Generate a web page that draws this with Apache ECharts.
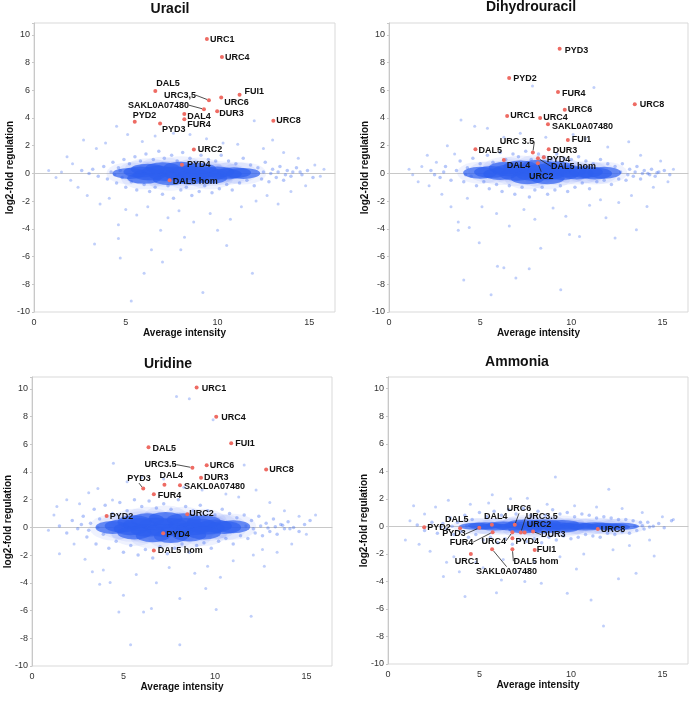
<!DOCTYPE html>
<html><head><meta charset="utf-8">
<script src="https://cdn.jsdelivr.net/npm/echarts/dist/echarts.min.js"></script>
<style>html,body{margin:0;padding:0;background:#fff}#c{width:691px;height:701px}</style>
</head><body><div id="c"></div><script>
// ---------- DATA ----------
const panelTitles = ['Uracil', 'Dihydrouracil', 'Uridine', 'Ammonia'];
const xTicks = [0, 5, 10, 15];
const yTicks = [-10, -8, -6, -4, -2, 0, 2, 4, 6, 8, 10];

// Panel 1: Uracil
const uracilGenes = ['URC1','URC4','DAL5','URC3,5','FUI1','URC6','SAKL0A07480','DUR3','DAL4','FUR4','PYD2','PYD3','URC8','URC2','PYD4','DAL5 hom'];
const uracilVals = [[9.42,9.69],[10.24,8.39],[6.61,5.95],[9.53,5.28],[11.2,5.68],[10.2,5.47],[9.26,4.63],[9.98,4.48],[8.19,4.29],[8.19,3.91],[5.49,3.72],[6.87,3.6],[13.04,3.79],[8.71,1.73],[8.06,0.62],[7.39,-0.5]];
const uracilCore = [[5.2,0],[5.8,0.1],[6.3,-0.1],[6.8,0.15],[7.2,-0.15],[7.6,0.1],[8.0,-0.1],[8.4,0.15],[8.8,-0.1],[9.2,0.1],[9.6,-0.1],[10.0,0.1],[10.4,-0.05],[10.9,0.05],[11.4,0],[7.0,0.4],[8.0,0.45],[9.0,0.35],[7.4,-0.45],[8.5,-0.4],[9.6,-0.35],[6.2,0.3],[6.0,-0.35]];
const uracilHalo = [[3.2,0.3],[3.5,-0.2],[3.8,0.5],[4.0,-0.4],[4.2,0.1],[4.3,0.8],[4.5,-0.7],[4.6,0.4],[4.8,-0.3],[4.9,1.0],[5.0,-1.0],[5.2,0.7],[5.3,-0.6],[5.5,1.2],[5.6,-1.2],[5.8,0.9],[6.0,-0.8],[6.1,1.4],[6.3,-1.3],[6.5,1.0],[6.6,-1.0],[6.8,1.6],[7.0,-1.5],[7.1,1.1],[7.3,-0.9],[7.5,1.3],[7.6,-1.8],[7.8,0.9],[8.0,-1.2],[8.1,1.5],[8.3,-1.0],[8.5,1.1],[8.6,-1.6],[8.8,0.8],[9.0,-1.3],[9.1,1.3],[9.3,-0.9],[9.5,1.0],[9.7,-1.4],[9.9,0.9],[10.1,-1.1],[10.2,1.3],[10.5,-0.8],[10.6,0.9],[10.8,-1.2],[11.0,0.7],[11.2,-0.7],[11.4,1.1],[11.6,-0.5],[11.8,0.6],[12.0,-0.9],[12.2,0.4],[12.4,-0.4],[12.6,0.8],[12.8,-0.6],[13.0,0.3],[13.2,-0.3],[13.4,0.5],[13.6,-0.5],[13.8,0.2],[14.0,-0.2],[14.3,0.4],[14.6,-0.1],[14.9,0.2],[15.2,-0.3],[12.5,0.1],[12.9,0.0],[13.3,0.1],[13.7,-0.1],[14.1,0.1],[14.5,0.1],[3.0,0.0],[2.6,0.2],[4.4,-0.1],[4.7,0.2]];
const uracilSparse = [[0.8,0.2],[1.2,-0.3],[1.5,0.1],[1.8,1.2],[2.0,-0.5],[2.1,0.7],[2.4,-1.0],[2.7,2.4],[2.9,-1.6],[3.3,-5.1],[3.4,1.8],[3.6,-2.2],[3.9,2.2],[4.1,-1.8],[4.5,3.4],[4.6,-3.7],[4.6,-4.7],[4.7,-6.1],[5.1,2.8],[5.0,-2.6],[5.3,-9.2],[5.6,-3.0],[5.9,2.3],[6.0,-7.2],[6.2,-2.4],[6.4,-5.5],[6.6,2.7],[6.9,-4.1],[7.0,-6.4],[7.3,-3.2],[7.6,2.9],[7.9,-2.7],[8.2,-4.6],[8.5,2.8],[8.7,-3.5],[9.2,-8.6],[9.4,2.5],[9.6,-2.9],[10.0,-4.1],[10.3,2.2],[10.7,-3.3],[11.1,2.1],[11.3,-2.4],[11.9,-7.2],[12.0,3.8],[12.1,-2.0],[12.5,1.8],[12.7,-1.6],[13.0,2.4],[13.3,-2.2],[13.6,1.5],[14.0,-1.3],[14.4,1.1],[14.8,-0.9],[15.3,0.6],[15.8,0.3],[15.6,-0.2],[10.5,-5.2],[8.0,-5.5]];

// Panel 2: Dihydrouracil
const dihydroGenes = ['PYD3','PYD2','FUR4','URC6','URC8','URC1','URC4','SAKL0A07480','FUI1','DAL5','URC 3.5','DUR3','PYD4','DAL5 hom','URC2','DAL4'];
const dihydroVals = [[9.36,8.99],[6.59,6.88],[9.27,5.87],[9.64,4.6],[13.48,4.98],[6.48,4.14],[8.29,4.0],[8.72,3.54],[9.81,2.41],[4.74,1.74],[7.89,1.5],[8.76,1.74],[8.49,1.17],[8.17,1.09],[8.17,0.73],[6.3,0.97]];
const dihydroCore = [[5.0,0.05],[5.6,0.1],[6.1,-0.05],[6.6,0.2],[7.0,-0.1],[7.5,0.2],[7.9,-0.1],[8.3,0.25],[8.7,-0.05],[9.1,0.2],[9.5,-0.05],[9.9,0.15],[10.3,0],[10.8,0.1],[11.3,0],[11.8,0.05],[7.2,0.5],[8.2,0.55],[9.2,0.45],[7.6,-0.35],[8.7,-0.35],[6.4,0.4]];
const dihydroHalo = [[2.3,0.2],[2.8,-0.3],[3.1,0.5],[3.4,-0.5],[3.7,0.2],[3.9,0.9],[4.1,-0.6],[4.3,0.4],[4.5,-0.2],[4.6,1.1],[4.8,-0.9],[5.0,0.7],[5.2,-0.6],[5.4,1.3],[5.5,-1.1],[5.7,0.8],[5.9,-0.8],[6.1,1.5],[6.2,-1.3],[6.4,1.0],[6.6,-0.9],[6.8,1.4],[6.9,-1.5],[7.1,1.2],[7.3,-1.0],[7.5,1.6],[7.7,-1.7],[7.8,1.0],[8.0,-1.2],[8.2,1.4],[8.4,-1.0],[8.5,1.2],[8.7,-1.5],[8.9,1.0],[9.1,-1.2],[9.2,1.4],[9.4,-0.9],[9.6,1.1],[9.8,-1.3],[10.0,1.0],[10.2,-1.0],[10.4,1.2],[10.6,-0.7],[10.8,0.9],[11.0,-1.1],[11.2,0.7],[11.4,-0.6],[11.6,1.0],[11.8,-0.5],[12.0,0.7],[12.2,-0.8],[12.4,0.5],[12.6,-0.4],[12.8,0.7],[13.0,-0.5],[13.2,0.3],[13.4,-0.2],[13.6,0.5],[13.8,-0.4],[14.0,0.2],[14.2,0.0],[14.4,0.3],[14.6,-0.2],[14.8,0.1],[15.1,0.2],[15.4,-0.1],[12.7,0.1],[13.1,-0.1],[13.5,0.1],[13.9,0.0],[14.3,-0.1],[14.7,0.05],[3.0,0.1],[2.5,-0.1],[4.2,-0.1]];
const dihydroSparse = [[1.1,0.3],[1.3,-0.1],[1.6,-0.6],[1.8,0.5],[2.1,1.3],[2.2,-0.9],[2.6,0.8],[2.9,-1.5],[3.2,2.0],[3.4,-2.4],[3.6,1.4],[3.8,-3.5],[3.8,-4.1],[3.95,3.85],[4.1,-7.7],[4.3,-1.8],[4.7,3.4],[4.95,-5.0],[5.1,-2.4],[5.4,3.25],[5.6,-8.75],[5.9,-2.9],[5.95,-6.7],[6.3,2.6],[6.6,-3.8],[6.96,-7.55],[7.2,2.9],[7.4,-2.6],[7.69,-6.88],[7.87,6.3],[8.0,-3.3],[8.32,-5.4],[8.6,2.6],[9.0,-2.5],[9.42,-8.4],[9.7,-3.1],[10.1,2.8],[10.45,-4.55],[10.78,2.5],[11.0,-2.3],[11.24,6.2],[11.6,-1.9],[12.0,1.9],[12.4,-4.67],[12.6,-2.1],[13.15,2.29],[13.3,-1.6],[13.57,-4.07],[13.8,1.3],[14.15,-2.39],[14.5,-1.0],[14.9,0.9],[15.3,-0.6],[15.6,0.3],[6.3,-6.8],[9.9,-4.4],[11.9,-3.2],[4.4,-3.9]];

// Panel 3: Uridine
const uridineGenes = ['URC1','URC4','FUI1','DAL5','URC3.5','URC6','URC8','DUR3','PYD3','DAL4','SAKL0A07480','FUR4','PYD2','URC2','PYD4','DAL5 hom'];
const uridineVals = [[9.0,10.1],[10.07,7.98],[10.89,6.07],[6.37,5.78],[8.77,4.31],[9.55,4.48],[12.8,4.17],[9.24,3.59],[6.08,2.8],[7.24,3.08],[8.09,3.04],[6.66,2.39],[4.08,0.82],[8.49,0.94],[7.17,-0.43],[6.66,-1.66]];
const uridineCore = [[4.4,0],[4.9,0.1],[5.4,-0.1],[5.9,0.2],[6.3,-0.2],[6.8,0.25],[7.2,-0.2],[7.6,0.2],[8.0,-0.15],[8.4,0.2],[8.8,-0.1],[9.2,0.15],[9.6,-0.05],[10.0,0.1],[10.5,0],[11.0,0.05],[6.3,0.55],[7.3,0.65],[8.3,0.55],[6.6,-0.6],[7.6,-0.65],[8.6,-0.55],[5.6,0.4],[5.6,-0.4],[9.4,0.4],[9.4,-0.4]];
const uridineHalo = [[1.5,0.1],[1.9,-0.4],[2.2,0.5],[2.5,-0.1],[2.8,0.8],[3.0,-0.7],[3.2,0.3],[3.4,1.3],[3.5,-1.2],[3.7,0.6],[3.9,-0.5],[4.0,1.6],[4.2,-1.5],[4.4,1.0],[4.6,-1.0],[4.8,1.8],[5.0,-1.8],[5.2,1.2],[5.4,-1.3],[5.6,2.0],[5.8,-2.0],[6.0,1.5],[6.2,-1.6],[6.4,1.9],[6.6,-2.2],[6.8,1.4],[7.0,-1.4],[7.2,1.7],[7.4,-1.9],[7.6,1.3],[7.8,-1.5],[8.0,2.0],[8.2,-1.2],[8.4,1.5],[8.6,-1.8],[8.8,1.2],[9.0,-1.3],[9.2,1.6],[9.4,-1.1],[9.6,1.2],[9.8,-1.5],[10.0,0.9],[10.2,-1.0],[10.4,1.3],[10.6,-0.8],[10.8,1.0],[11.0,-1.2],[11.2,0.7],[11.4,-0.6],[11.6,0.9],[11.8,-0.8],[12.0,0.5],[12.2,-0.4],[12.4,0.8],[12.6,-0.6],[12.8,0.3],[13.0,-0.3],[13.2,0.6],[13.4,-0.5],[13.6,0.2],[13.8,-0.1],[14.0,0.4],[14.3,0.0],[14.6,-0.3],[14.9,0.2],[15.2,0.5],[11.7,0.1],[12.1,-0.1],[12.5,0.1],[12.9,-0.05],[13.3,0.05],[13.7,0.15],[14.1,-0.1],[3.6,0.0],[3.1,-0.2],[2.7,0.2]];
const uridineSparse = [[0.9,-0.2],[1.2,0.9],[1.36,1.5],[1.5,-1.9],[1.9,2.0],[2.3,-1.2],[2.6,1.7],[2.9,-2.3],[3.1,2.5],[3.3,-3.2],[3.6,2.8],[3.9,-3.08],[4.27,-3.98],[4.4,1.98],[4.45,4.63],[4.75,-6.1],[5.0,-4.9],[5.2,3.3],[5.39,-8.46],[5.7,-3.4],[6.0,3.6],[6.53,-5.86],[6.8,-4.0],[7.2,3.5],[7.5,-2.9],[7.9,9.45],[8.08,-5.13],[8.08,-8.46],[8.3,2.9],[8.6,9.28],[8.9,-3.3],[9.3,2.7],[9.6,-2.8],[9.9,7.76],[10.07,-5.93],[10.3,-3.6],[10.6,2.4],[11.0,-2.4],[11.3,2.2],[11.6,4.5],[11.98,-6.41],[12.1,-2.0],[12.25,2.7],[12.6,-1.6],[13.0,1.8],[13.4,-1.8],[13.8,1.2],[14.2,-1.2],[14.6,0.8],[15.0,-0.5],[15.5,0.9],[6.1,-6.1],[9.5,-4.4],[12.7,-2.8],[3.7,-4.1]];

// Panel 4: Ammonia
const ammoniaGenes = ['PYD2','DAL5','PYD3','DAL4','FUR4','URC6','URC4','URC3.5','URC2','DUR3','PYD4','FUI1','DAL5 hom','SAKL0A07480','URC1','URC8'];
const ammoniaVals = [[1.98,-0.06],[3.94,-0.13],[4.99,-0.11],[5.68,0.11],[5.72,-0.42],[6.93,0.11],[6.8,-0.42],[7.26,-0.45],[7.47,-0.45],[7.93,-0.38],[6.8,-0.86],[8.02,-1.71],[6.8,-1.66],[5.69,-1.66],[4.53,-2.0],[11.47,-0.2]];
const ammoniaCore = [[4.8,0],[5.3,0.05],[5.8,-0.05],[6.3,0.1],[6.8,-0.05],[7.3,0.1],[7.8,-0.05],[8.3,0.1],[8.8,0],[9.3,0.05],[9.8,-0.05],[10.3,0.05],[10.8,-0.05],[11.3,0.05],[11.8,0],[12.3,-0.05],[12.8,0],[7.5,0.25],[8.5,0.25],[9.5,0.2],[7.5,-0.25],[8.5,-0.25],[9.5,-0.2]];
const ammoniaHalo = [[1.6,0.1],[2.0,-0.3],[2.4,0.3],[2.7,-0.5],[3.0,0.2],[3.2,-0.2],[3.4,0.6],[3.6,-0.6],[3.8,0.3],[4.0,-0.4],[4.2,0.8],[4.4,-0.8],[4.6,0.5],[4.8,-0.6],[5.0,1.0],[5.2,-1.0],[5.4,0.7],[5.6,-0.8],[5.8,1.1],[6.0,-1.2],[6.2,0.8],[6.4,-0.9],[6.6,1.2],[6.8,-1.3],[7.0,0.9],[7.2,-1.0],[7.4,1.3],[7.6,-1.1],[7.8,0.8],[8.0,-0.9],[8.2,1.1],[8.4,-1.2],[8.6,0.8],[8.8,-0.8],[9.0,1.2],[9.2,-1.0],[9.4,0.9],[9.6,-0.7],[9.8,1.0],[10.0,-0.9],[10.2,0.7],[10.4,-0.8],[10.6,0.9],[10.8,-0.6],[11.0,0.8],[11.2,-0.7],[11.4,0.6],[11.6,-0.8],[11.8,0.7],[12.0,-0.5],[12.2,0.6],[12.4,-0.6],[12.6,0.5],[12.8,-0.4],[13.0,0.5],[13.2,-0.5],[13.4,0.4],[13.6,-0.3],[13.8,0.3],[14.0,-0.2],[14.2,0.3],[14.5,0.0],[14.8,0.2],[15.1,-0.1],[15.5,0.4],[13.5,0.0],[13.9,0.05],[14.3,-0.05],[3.5,0.0],[2.9,-0.05],[4.3,0.05]];
const ammoniaSparse = [[0.95,-1.0],[1.2,0.4],[1.4,1.5],[1.7,-1.3],[2.0,0.9],[2.3,-1.8],[2.6,1.4],[3.03,-3.65],[3.2,-2.6],[3.3,1.9],[3.6,-2.2],[3.9,-3.3],[4.21,-5.1],[4.5,1.6],[4.8,-2.6],[5.2,-3.0],[5.5,1.7],[5.93,-4.82],[6.3,-2.4],[6.7,2.0],[7.0,-3.3],[7.48,-4.0],[7.62,2.05],[8.0,-2.6],[8.38,-4.14],[8.7,1.6],[9.15,3.58],[9.4,-2.2],[9.8,-4.86],[10.2,1.5],[10.7,-2.0],[11.1,-5.35],[11.4,1.4],[11.78,-7.24],[12.07,2.7],[12.3,-1.7],[12.8,1.3],[13.2,-1.4],[13.56,-3.4],[13.9,1.0],[14.3,-1.0],[14.55,-2.15],[15.0,0.7],[15.6,0.5],[6.2,-3.9],[10.3,-3.1],[12.6,-3.8],[5.7,2.3]];

// ---------- STYLE / LAYOUT ----------
const grids = [
  {left:34, top:23, width:301, height:289},
  {left:389, top:23, width:301, height:289},
  {left:32, top:377, width:300, height:289},
  {left:388, top:377, width:300, height:287}
];
const titlePos = [[170,2],[531,0],[168,357],[517,355]];
const coreSize = [[34,11],[34,12],[34,13],[34,7]];
const fringeSize = [[46,22],[46,22],[46,26],[46,16]];
// label shifts (px) and whether a leader line is drawn
const place = [
  {'URC1':[-1,0],'URC4':[-1,0],'DAL5':[-3,-7],'URC3,5':[-49,-5,1],'FUI1':[1,-3],'URC6':[-1,5],'SAKL0A07480':[-80,-4,1],'DUR3':[-2,2],'DAL4':[-1,3],'FUR4':[-1,5],'PYD2':[-6,-6],'PYD3':[-2,6],'URC8':[-1,0],'URC2':[0,0],'PYD4':[1,0],'DAL5 hom':[-1,1]},
  {'PYD3':[1,2],'PYD2':[0,0],'FUR4':[0,1],'URC6':[-1,0],'URC8':[1,0],'URC1':[-1,0],'URC4':[-1,0],'SAKL0A07480':[0,2],'FUI1':[0,0],'DAL5':[-1,1],'URC 3.5':[-37,-11,1],'DUR3':[0,1],'PYD4':[-1,2],'DAL5 hom':[9,8,1],'URC2':[-13,13,1],'DAL4':[-1,6]},
  {'URC1':[1,1],'URC4':[1,1],'FUI1':[0,0],'DAL5':[0,1],'URC3.5':[-52,-3,1],'URC6':[-1,0],'URC8':[-1,0],'DUR3':[-1,0],'PYD3':[-20,-10,1],'DAL4':[-9,-9],'SAKL0A07480':[0,1],'FUR4':[0,1],'PYD2':[-1,0],'URC2':[-2,-1],'PYD4':[-1,1],'DAL5 hom':[0,0]},
  {'PYD2':[-1,0],'DAL5':[-19,-9],'PYD3':[-41,6,1],'DAL4':[-12,-8],'FUR4':[-47,10,1],'URC6':[-12,-16,1],'URC4':[-35,9,1],'URC3.5':[1,-16,1],'URC2':[-2,-8],'DUR3':[4,3,1],'PYD4':[-1,3],'FUI1':[-2,0],'DAL5 hom':[-3,12,1],'SAKL0A07480':[-20,22,1],'URC1':[-20,8],'URC8':[-1,0]}
];
const FONT = 'Liberation Sans, Arial, sans-serif';
const BLUE = '#2d5ff0';

const panels = [
  [uracilGenes, uracilVals, uracilCore, uracilHalo, uracilSparse],
  [dihydroGenes, dihydroVals, dihydroCore, dihydroHalo, dihydroSparse],
  [uridineGenes, uridineVals, uridineCore, uridineHalo, uridineSparse],
  [ammoniaGenes, ammoniaVals, ammoniaCore, ammoniaHalo, ammoniaSparse]
];

const option = {
  backgroundColor:'#fff', animation:false,
  title: [], grid: [], xAxis: [], yAxis: [], series: []
};

panels.forEach((p, i) => {
  const [genes, vals, core, halo, sparse] = p;
  option.title.push({text: panelTitles[i], left: titlePos[i][0], top: titlePos[i][1], textAlign:'center', padding:0,
    textStyle:{fontSize:14, fontWeight:'bold', color:'#111', fontFamily:FONT}});
  option.grid.push(Object.assign({show:true, borderColor:'#d9d9d9', borderWidth:1, backgroundColor:'#fff'}, grids[i]));
  option.xAxis.push({gridIndex:i, type:'value', min:0, max:16.4, interval:5,
    name:'Average intensity', nameLocation:'middle', nameGap:16, nameMoveOverlap:false,
    nameTextStyle:{fontSize:10, fontWeight:'bold', color:'#111', fontFamily:FONT},
    axisLine:{show:true, lineStyle:{color:'#c8c8c8'}}, axisTick:{show:false},
    splitLine:{show:false},
    axisLabel:{fontSize:9, color:'#333', margin:6, fontFamily:FONT, formatter:v => xTicks.includes(v) ? String(v) : ''}});
  option.yAxis.push({gridIndex:i, type:'value', min:-10, max:10.85, interval:2,
    name:'log2-fold regulation', nameLocation:'middle', nameGap:19, nameMoveOverlap:false,
    nameTextStyle:{fontSize:10, fontWeight:'bold', color:'#111', fontFamily:FONT},
    axisLine:{show:true, lineStyle:{color:'#c8c8c8'}}, axisTick:{show:true, length:2, lineStyle:{color:'#c8c8c8'}},
    splitLine:{show:false},
    axisLabel:{fontSize:9, color:'#333', margin:4, fontFamily:FONT, formatter:v => yTicks.includes(v) ? String(v) : ''}});
  option.series.push({type:'scatter', xAxisIndex:i, yAxisIndex:i, data:sparse, symbolSize:3, silent:true,
    itemStyle:{color:BLUE, opacity:0.3}});
  option.series.push({type:'scatter', xAxisIndex:i, yAxisIndex:i, data:core, symbolSize:fringeSize[i], silent:true,
    itemStyle:{color:BLUE, opacity:0.08}});
  option.series.push({type:'scatter', xAxisIndex:i, yAxisIndex:i, data:halo, symbolSize:3.5, silent:true,
    itemStyle:{color:BLUE, opacity:0.35}});
  option.series.push({type:'scatter', xAxisIndex:i, yAxisIndex:i, data:core, symbolSize:coreSize[i], silent:true,
    itemStyle:{color:BLUE, opacity:0.7}});
  const pl = place[i];
  option.series.push({type:'scatter', xAxisIndex:i, yAxisIndex:i, symbolSize:4, z:5,
    itemStyle:{color:'#ee6b63', opacity:1},
    data: genes.map((g, k) => ({name:g, value:vals[k], labelLine:{show: !!(pl[g] && pl[g][2])}})),
    label:{show:true, position:'right', distance:2, formatter:'{b}', fontSize:9, fontWeight:'bold', color:'#111', fontFamily:FONT},
    labelLine:{show:false, lineStyle:{color:'#222', width:0.8}},
    labelLayout: prm => { const q = pl[prm.text]; return q ? {dx:q[0], dy:q[1]} : {}; }
  });
});

const chart = echarts.init(document.getElementById('c'), null, {renderer:'canvas'});
chart.setOption(option);
</script></body></html>
